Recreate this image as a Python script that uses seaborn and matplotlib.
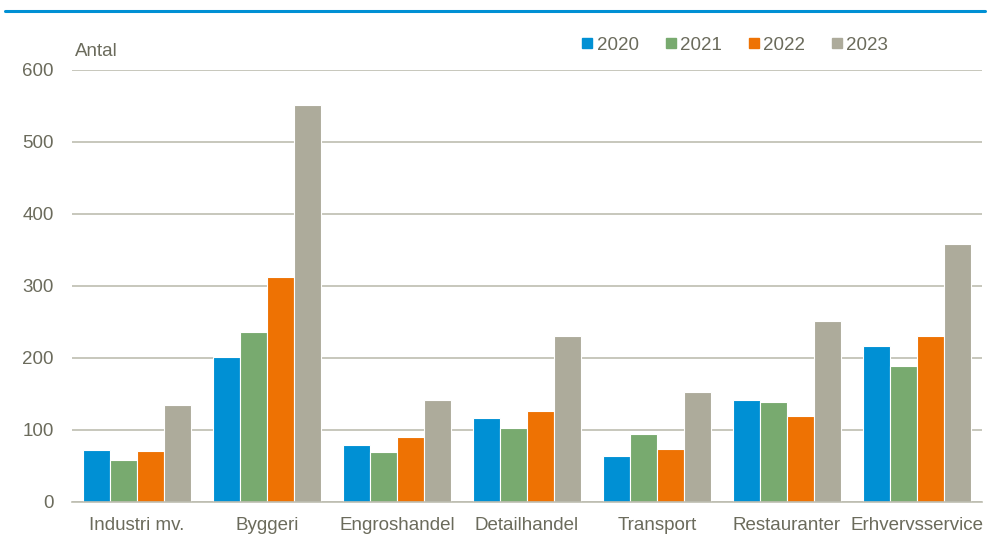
import pandas as pd
import matplotlib.pyplot as plt
import matplotlib.lines as mlines
import seaborn as sns
from matplotlib import font_manager

# data
branches = ['Industri mv.', 'Byggeri', 'Engroshandel', 'Detailhandel',
            'Transport', 'Restauranter', 'Erhvervsservice']
years = ['2020', '2021', '2022', '2023']
v2020 = [72, 202, 79, 117, 64, 142, 217]
v2021 = [58, 236, 70, 103, 95, 139, 189]
v2022 = [71, 312, 90, 126, 74, 120, 231]
v2023 = [135, 551, 142, 230, 153, 251, 359]

colors = ['#0090D4', '#78AA6F', '#EE7203', '#ADAB9B']
txt = '#6B6B5C'
grid = '#BDBDB0'

rows = []
for yr, vals in zip(years, [v2020, v2021, v2022, v2023]):
    for b, v in zip(branches, vals):
        rows.append({'branche': b, 'aar': yr, 'antal': v})
df = pd.DataFrame(rows)

sns.set_style('white')
names = {f.name for f in font_manager.fontManager.ttflist}
fam = ['Liberation Sans Narrow', 'Liberation Sans', 'DejaVu Sans']
fam = [f for f in fam if f in names] or ['DejaVu Sans']
plt.rcParams['font.family'] = fam

fig = plt.figure(figsize=(9.91, 5.43), dpi=100)
ax = fig.add_axes([72 / 991, 1 - 502 / 543, 910 / 991, 432 / 543])

sns.barplot(data=df, x='branche', y='antal', hue='aar', order=branches,
            hue_order=years, palette=colors, width=0.83, edgecolor='white',
            linewidth=0.8, saturation=1, ax=ax, legend=False)

ax.set_ylim(0, 600)
ax.set_xlim(-0.5, len(branches) - 0.5)
ax.set_yticks(range(0, 601, 100))
ax.yaxis.grid(True, color=grid, linewidth=1.2)
ax.set_axisbelow(True)
for s in ['top', 'right', 'left']:
    ax.spines[s].set_visible(False)
ax.spines['bottom'].set_color(grid)
ax.spines['bottom'].set_linewidth(1.2)
ax.tick_params(axis='both', length=0, labelsize=13.5, colors=txt)
ax.tick_params(axis='y', pad=13)
ax.tick_params(axis='x', pad=11)
ax.set_xlabel('')
ax.set_ylabel('')

fig.text(75 / 991, 1 - 51 / 543, 'Antal', fontsize=13.5, color=txt, va='center')

# legend
handles = [mlines.Line2D([], [], marker='s', linestyle='', markersize=7,
                         markerfacecolor=c, markeredgecolor=c, label=y)
           for c, y in zip(colors, years)]
leg = fig.legend(handles=handles, loc='center', ncol=4, frameon=False,
                 bbox_to_anchor=(733 / 991, 1 - 45 / 543), fontsize=13.5,
                 handletextpad=0.0, columnspacing=1.2, handlelength=1.0)
for t in leg.get_texts():
    t.set_color(txt)

# blue rule at top
fig.add_artist(mlines.Line2D([5 / 991, 985 / 991], [1 - 11 / 543, 1 - 11 / 543],
                             color='#0090D4', linewidth=2.2))

fig.savefig('out.png', dpi=100)
